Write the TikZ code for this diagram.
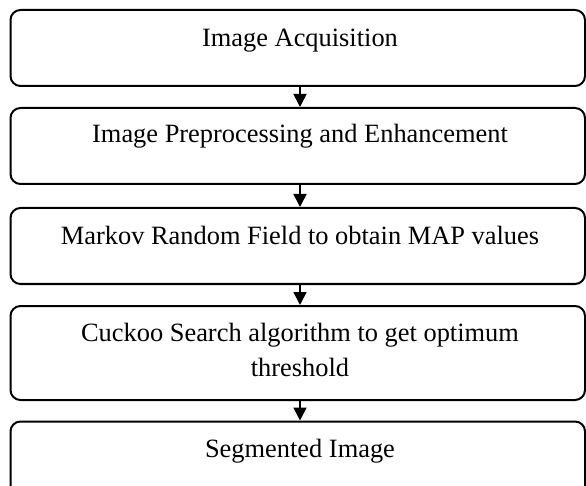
\documentclass[tikz,border=0pt]{standalone}
\usepackage{fontspec}
\setmainfont{Liberation Serif}
\usetikzlibrary{arrows.meta}
\tikzset{
  stepbox/.style={draw=black, line width=2pt, rounded corners=10pt, minimum width=574.5pt, inner sep=0pt, fill=white},
  lbl/.style={inner sep=0pt, anchor=base, align=center, font=\fontsize{26.4}{35}\selectfont},
  arr/.style={line width=1.6pt, -{Triangle[width=13pt,length=13pt]}, shorten >=0pt}
}
\begin{document}
\begin{tikzpicture}[x=1pt, y=-1pt]
\clip (0,0) rectangle (586,486);
\fill[white] (0,0) rectangle (586,486);
\coordinate (ax) at (300,0);
\node[stepbox, minimum height=76pt] (b1) at (297.75,48) {};
\node[stepbox, minimum height=76pt] (b2) at (297.75,146) {};
\node[stepbox, minimum height=76pt] (b3) at (297.75,246) {};
\node[stepbox, minimum height=94pt] (b4) at (297.75,353) {};
\node[stepbox, minimum height=76pt] (b5) at (297.75,459.5) {};
\node[lbl] (t1) at (300,47) {Image Acquisition};
\node[lbl] (t2) at (300,143) {Image Preprocessing and Enhancement};
\node[lbl] (t3) at (300,245) {Markov Random Field to obtain MAP values};
\node[lbl] (t4) at (300,376) {Cuckoo Search algorithm to get optimum\\threshold};
\node[lbl] (t5) at (300,457) {Segmented Image};
\draw[arr] (b1.south -| ax) -- (b2.north -| ax);
\draw[arr] (b2.south -| ax) -- (b3.north -| ax);
\draw[arr] (b3.south -| ax) -- (b4.north -| ax);
\draw[arr] (b4.south -| ax) -- (b5.north -| ax);
\end{tikzpicture}
\end{document}
